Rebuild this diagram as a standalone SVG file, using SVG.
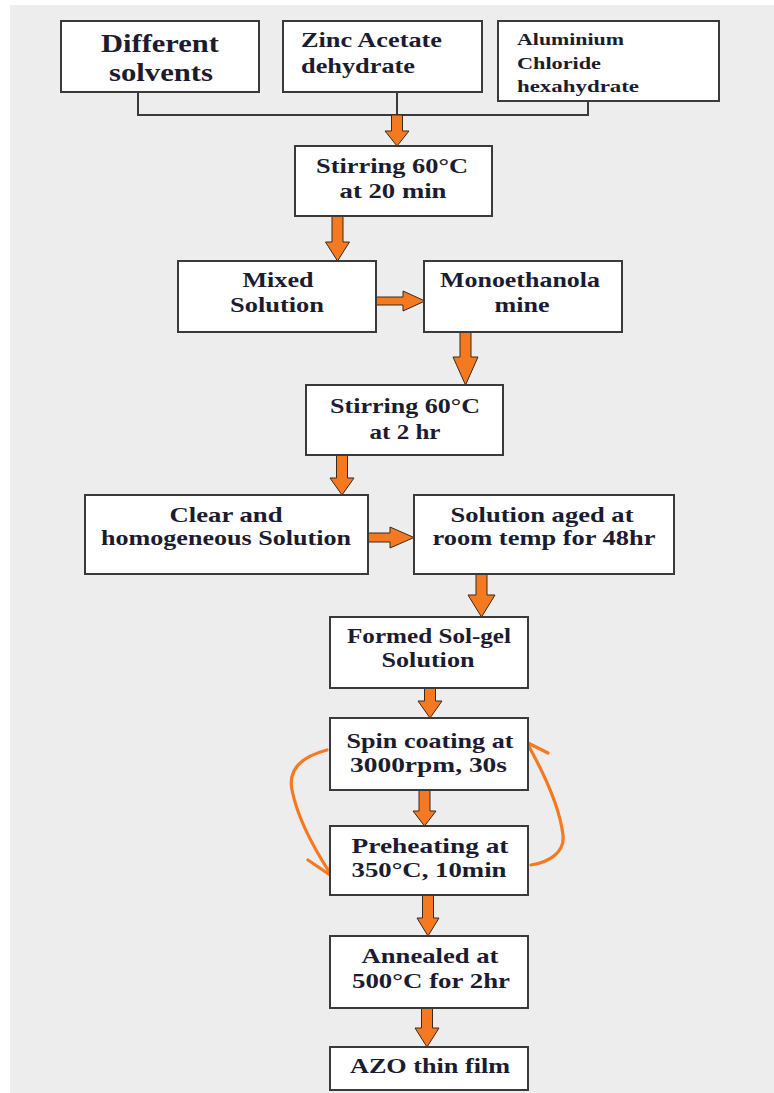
<svg xmlns="http://www.w3.org/2000/svg" width="774" height="1093" viewBox="0 0 774 1093">
<style>
.box{fill:#ffffff;stroke:#3a3a3a;stroke-width:2}
.t{font-family:"Liberation Serif","Times New Roman",serif;font-weight:bold;fill:#1c1c30;text-anchor:middle;font-size:21px}
.tl{text-anchor:start}
.f26{font-size:26px}
.f20{font-size:20px}
.f17{font-size:17px}
.ln{fill:none;stroke:#3a3a3a;stroke-width:2}
.ba{fill:#f47920;stroke:#3a2a1a;stroke-width:1}
.cv{fill:none;stroke:#f47920;stroke-width:3.2;stroke-linecap:round;stroke-linejoin:round}
</style>
<rect x="0" y="0" width="774" height="1093" fill="#ffffff"/>
<rect x="10" y="5" width="764" height="1088" fill="#ededed"/>

<g id="connectors">
  <path class="ln" d="M138,92 V115 H588 V101 M397,92 V115"/>
  <path class="ba" d="M391.5,115 H402.5 V131 H409 L397,146 L385,131 H391.5 Z"/>
  <path class="ba" d="M332,216 H343 V242 H349.5 L337.5,261 L325.5,242 H332 Z"/>
  <path class="ba" d="M376,297 H403 V291 L425,301 L403,311 V305 H376 Z"/>
  <path class="ba" d="M460,332 H471 V357 H478 L465.5,385 L453,357 H460 Z"/>
  <path class="ba" d="M336.5,455 H347.5 V478 H354 L342,495 L330,478 H336.5 Z"/>
  <path class="ba" d="M368,533 H390 V527 L414,537.5 L390,548 V542 H368 Z"/>
  <path class="ba" d="M476,574 H487 V595 H495 L481.5,617 L468,595 H476 Z"/>
  <path class="ba" d="M424.5,688 H435.5 V701 H442 L430,718 L418,701 H424.5 Z"/>
  <path class="ba" d="M419,790 H430 V811 H436 L424.5,826 L413,811 H419 Z"/>
  <path class="ba" d="M422.5,895 H433.5 V918 H439 L428,936 L417,918 H422.5 Z"/>
  <path class="ba" d="M421.5,1008 H432.5 V1028 H439 L427,1047 L415,1028 H421.5 Z"/>
  <path class="cv" d="M327,750 C300,757 288,770 292,790 C298,820 315,850 330,873 M308,860 L330,875 L331,854"/>
  <path class="cv" d="M531,865 C550,862 565,852 563,835 C560,810 545,775 527,743 M548,753 L526,742 L526,763"/>
</g>

<g id="n1"><rect class="box" x="61" y="21" width="198" height="71"/>
<text class="t f26" x="160" y="52" textLength="118" lengthAdjust="spacingAndGlyphs">Different</text><text class="t f26" x="161" y="81" textLength="104" lengthAdjust="spacingAndGlyphs">solvents</text></g>
<g id="n2"><rect class="box" x="283" y="21" width="199" height="71"/>
<text class="t tl f20" x="301" y="47" textLength="141" lengthAdjust="spacingAndGlyphs">Zinc Acetate</text><text class="t tl f20" x="301" y="73" textLength="114" lengthAdjust="spacingAndGlyphs">dehydrate</text></g>
<g id="n3"><rect class="box" x="498" y="21" width="221" height="80"/>
<text class="t tl f17" x="517" y="45" textLength="107" lengthAdjust="spacingAndGlyphs">Aluminium</text><text class="t tl f17" x="517" y="69" textLength="84" lengthAdjust="spacingAndGlyphs">Chloride</text><text class="t tl f17" x="517" y="92" textLength="122" lengthAdjust="spacingAndGlyphs">hexahydrate</text></g>
<g id="n4"><rect class="box" x="295" y="146" width="197" height="70"/>
<text class="t" x="392" y="173" textLength="152" lengthAdjust="spacingAndGlyphs">Stirring 60°C</text><text class="t" x="393" y="198" textLength="107" lengthAdjust="spacingAndGlyphs">at 20 min</text></g>
<g id="n5"><rect class="box" x="178" y="261" width="198" height="71"/>
<text class="t" x="278" y="287" textLength="71" lengthAdjust="spacingAndGlyphs">Mixed</text><text class="t" x="277" y="312" textLength="94" lengthAdjust="spacingAndGlyphs">Solution</text></g>
<g id="n6"><rect class="box" x="424" y="261" width="198" height="71"/>
<text class="t" x="520" y="287" textLength="160" lengthAdjust="spacingAndGlyphs">Monoethanola</text><text class="t" x="522" y="312" textLength="55" lengthAdjust="spacingAndGlyphs">mine</text></g>
<g id="n7"><rect class="box" x="306" y="385" width="197" height="70"/>
<text class="t" x="405" y="413" textLength="150" lengthAdjust="spacingAndGlyphs">Stirring 60°C</text><text class="t" x="405" y="439" textLength="71" lengthAdjust="spacingAndGlyphs">at 2 hr</text></g>
<g id="n8"><rect class="box" x="85" y="495" width="283" height="79"/>
<text class="t" x="226" y="522" textLength="113" lengthAdjust="spacingAndGlyphs">Clear and</text><text class="t" x="226" y="545" textLength="250" lengthAdjust="spacingAndGlyphs">homogeneous Solution</text></g>
<g id="n9"><rect class="box" x="414" y="495" width="260" height="79"/>
<text class="t" x="542" y="522" textLength="183" lengthAdjust="spacingAndGlyphs">Solution aged at</text><text class="t" x="544" y="545" textLength="223" lengthAdjust="spacingAndGlyphs">room temp for 48hr</text></g>
<g id="n10"><rect class="box" x="330" y="617" width="198" height="71"/>
<text class="t" x="429" y="643" textLength="164" lengthAdjust="spacingAndGlyphs">Formed Sol-gel</text><text class="t" x="428" y="667" textLength="93" lengthAdjust="spacingAndGlyphs">Solution</text></g>
<g id="n11"><rect class="box" x="330" y="718" width="198" height="72"/>
<text class="t" x="430" y="748" textLength="167" lengthAdjust="spacingAndGlyphs">Spin coating at</text><text class="t" x="428.5" y="772" textLength="157" lengthAdjust="spacingAndGlyphs">3000rpm, 30s</text></g>
<g id="n12"><rect class="box" x="330" y="826" width="198" height="69"/>
<text class="t" x="430" y="853" textLength="157" lengthAdjust="spacingAndGlyphs">Preheating at</text><text class="t" x="429" y="877" textLength="155" lengthAdjust="spacingAndGlyphs">350°C, 10min</text></g>
<g id="n13"><rect class="box" x="330" y="936" width="198" height="72"/>
<text class="t" x="430" y="963" textLength="137" lengthAdjust="spacingAndGlyphs">Annealed at</text><text class="t" x="431" y="988" textLength="158" lengthAdjust="spacingAndGlyphs">500°C for 2hr</text></g>
<g id="n14"><rect class="box" x="330" y="1047" width="198" height="43"/>
<text class="t" x="430" y="1073" textLength="160" lengthAdjust="spacingAndGlyphs">AZO thin film</text></g>
</svg>
